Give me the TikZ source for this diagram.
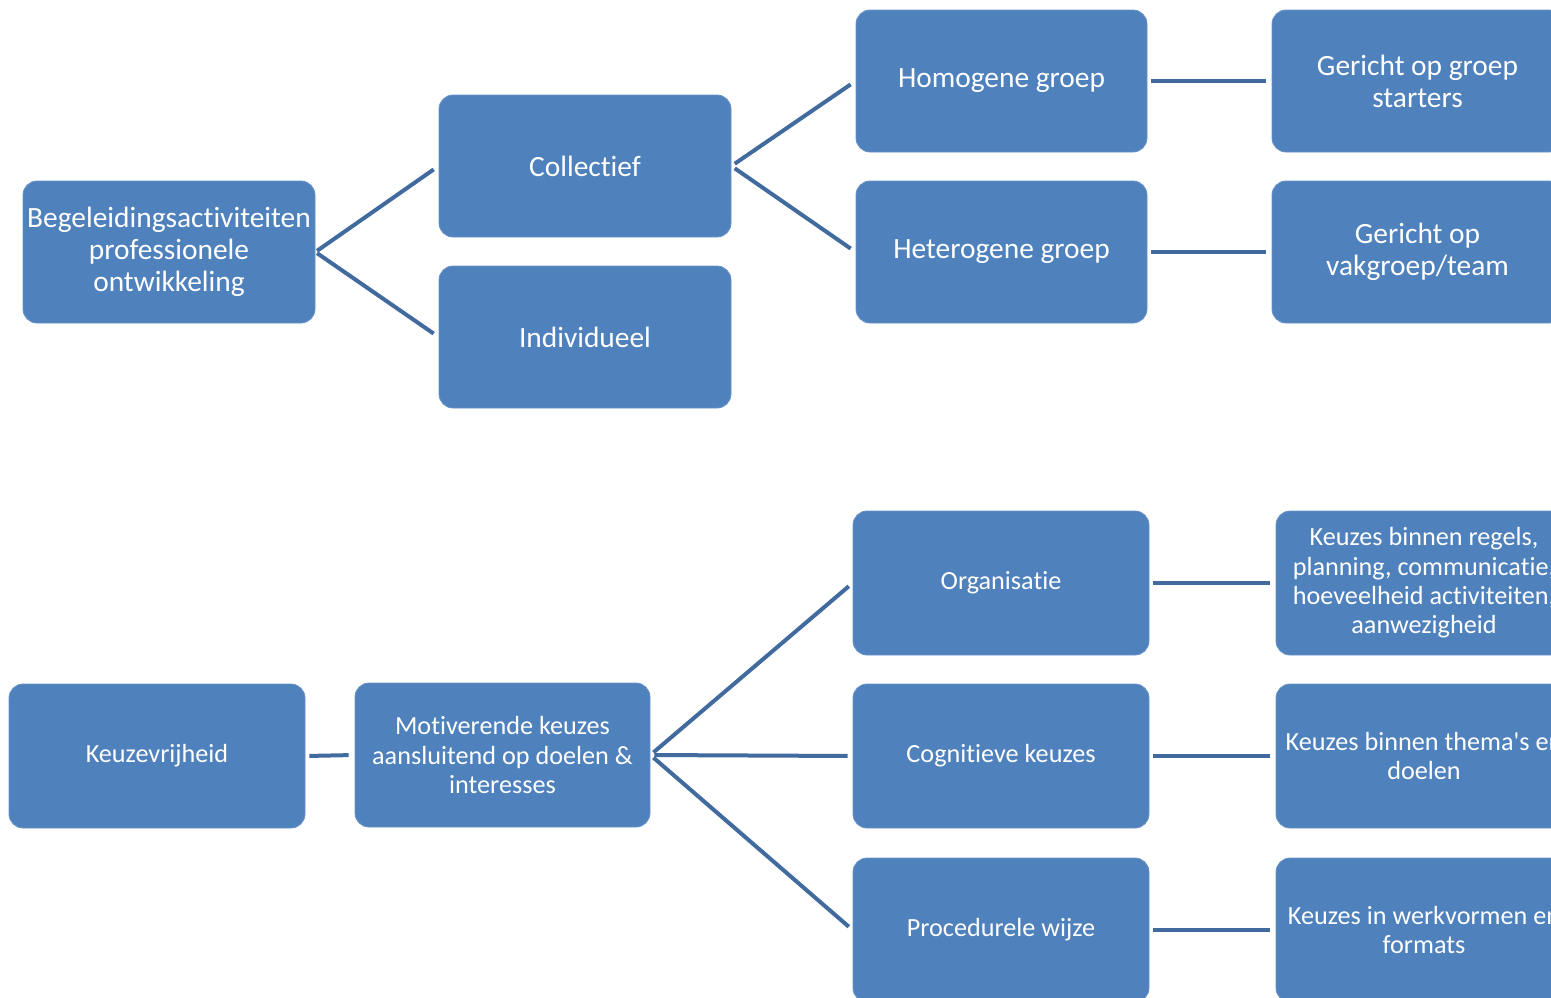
\documentclass[tikz,border=0pt]{standalone}
\usepackage{fontspec}
\setmainfont{Carlito}[Ligatures={TeXOff,NoCommon}]
\definecolor{boxblue}{RGB}{79,129,189}
\definecolor{lineblue}{RGB}{65,107,158}
\begin{document}
\begin{tikzpicture}[x=0.5pt,y=-0.5pt,
  box/.style={fill=boxblue, draw=boxblue!85!white, line width=0.4pt, rounded corners=7pt, text=white, align=center, inner sep=0pt, minimum height=71pt},
  bigtxt/.style={font=\fontsize{14.7}{16}\selectfont},
  smalltxt/.style={font=\fontsize{13.1}{14.7}\selectfont},
  conn/.style={draw=lineblue, line width=2pt}]
\useasboundingbox (0,0) rectangle (1551,997);
\clip (0,0) rectangle (1551,997);
% top tree
\node[box,bigtxt,minimum width=146pt] (A) at (169,252) {Begeleidingsactiviteiten\\professionele\\ontwikkeling};
\node[box,bigtxt,minimum width=146pt] (B) at (585,166) {Collectief};
\node[box,bigtxt,minimum width=146pt] (C) at (585,337) {Individueel};
\node[box,bigtxt,minimum width=145.5pt] (D) at (1001.5,81) {Homogene groep};
\node[box,bigtxt,minimum width=145.5pt] (E) at (1001.5,252) {Heterogene groep};
\node[box,bigtxt,minimum width=145.5pt] (F) at (1417.5,81) {Gericht op groep\\starters};
\node[box,bigtxt,minimum width=145.5pt] (G) at (1417.5,252) {Gericht op\\vakgroep/team};
\draw[conn,shorten <=1pt,shorten >=3pt] (A.east) -- (B.west);
\draw[conn,shorten <=1pt,shorten >=3pt] (A.east) -- (C.west);
\draw[conn,shorten <=2pt,shorten >=3pt] (B.east) -- (D.west);
\draw[conn,shorten <=2pt,shorten >=3pt] (B.east) -- (E.west);
\draw[conn,shorten <=2pt,shorten >=3pt] (D.east) -- (F.west);
\draw[conn,shorten <=2pt,shorten >=3pt] (E.east) -- (G.west);
% bottom tree
\node[box,smalltxt,minimum width=148pt,minimum height=72pt] (H) at (157,756) {Keuzevrijheid};
\node[box,smalltxt,minimum width=147.5pt,minimum height=72pt] (I) at (502.5,755) {Motiverende keuzes\\aansluitend op doelen \&\\interesses};
\node[box,smalltxt,minimum width=148pt,minimum height=72pt] (J) at (1001,583) {Organisatie};
\node[box,smalltxt,minimum width=148pt,minimum height=72pt] (K) at (1001,756) {Cognitieve keuzes};
\node[box,smalltxt,minimum width=148pt,minimum height=72pt] (L) at (1001,930) {Procedurele wijze};
\node[box,smalltxt,minimum width=148pt,minimum height=72pt] (M) at (1424,583) {Keuzes binnen regels,\\planning, communicatie,\\hoeveelheid activiteiten,\\aanwezigheid};
\node[box,smalltxt,minimum width=148pt,minimum height=72pt] (N) at (1424,756) {Keuzes binnen thema's en\\doelen};
\node[box,smalltxt,minimum width=148pt,minimum height=72pt] (O) at (1424,930) {Keuzes in werkvormen en\\formats};
\draw[conn,shorten <=2pt,shorten >=3pt] (H.east) -- (I.west);
\draw[conn,shorten <=2pt,shorten >=2.5pt] (I.east) -- (J.west);
\draw[conn,shorten <=2pt,shorten >=2.5pt] (I.east) -- (K.west);
\draw[conn,shorten <=2pt,shorten >=2.5pt] (I.east) -- (L.west);
\draw[conn,shorten <=2pt,shorten >=3pt] (J.east) -- (M.west);
\draw[conn,shorten <=2pt,shorten >=3pt] (K.east) -- (N.west);
\draw[conn,shorten <=2pt,shorten >=3pt] (L.east) -- (O.west);
\end{tikzpicture}
\end{document}
